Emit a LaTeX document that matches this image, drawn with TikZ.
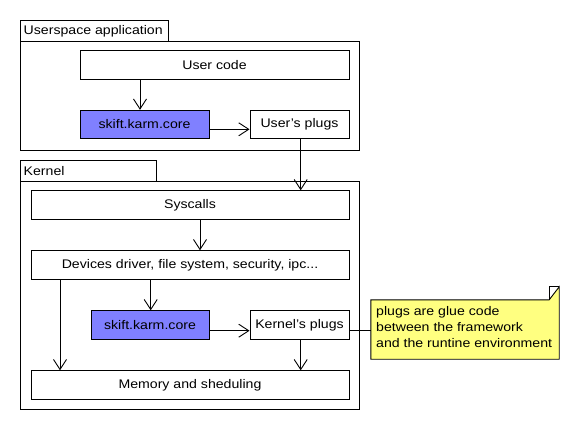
\documentclass[tikz,border=0pt]{standalone}
\usepackage{fontspec}
\setmainfont{Liberation Sans}[FakeStretch=1.13]
\usetikzlibrary{arrows.meta,calc}
\definecolor{coreblue}{HTML}{8080FF}
\definecolor{noteyellow}{HTML}{FFFF80}
\begin{document}
\begin{tikzpicture}[x=1pt,y=-1pt,
  every node/.style={font=\fontsize{12.5}{15.7}\selectfont, inner sep=0pt},
  box/.style={draw, line width=0.9pt, minimum height=28.5pt, fill=white},
  corebox/.style={box, fill=coreblue},
  pkg/.style={draw, line width=0.9pt},
  arr/.style={line width=0.9pt, -{Straight Barb[length=10pt,width=13pt,line width=0.9pt]}},
  conn/.style={line width=0.9pt}]
\useasboundingbox (0,0) rectangle (580,430);
% packages
\draw[pkg] (20,20) rectangle (168,41);
\node[anchor=west] (utab) at (23.5,31) {Userspace application};
\draw[pkg] (20,41) rectangle (359,150);
\draw[pkg] (20,160) rectangle (156,181);
\node[anchor=west] (ktab) at (23.5,171) {Kernel};
\draw[pkg] (20,181) rectangle (359,409);
% nodes
\node[box, minimum width=269pt] (ucode) at (214.5,65) {User code};
\node[corebox, minimum width=129pt] (ucore) at (144.5,124.5) {skift.karm.core};
\node[box, minimum width=99pt] (uplugs) at (299.5,124.5) {User's plugs};
\node[box, minimum width=318pt] (sys) at (190,205) {Syscalls};
\node[box, minimum width=318pt] (dev) at (190,265) {Devices driver, file system, security, ipc...};
\node[corebox, minimum width=118pt] (kcore) at (150,325) {skift.karm.core};
\node[box, minimum width=99pt] (kplugs) at (299.5,325) {Kernel's plugs};
\node[box, minimum width=318pt] (mem) at (190,385) {Memory and sheduling};
% note
\node[minimum width=188pt, minimum height=59pt] (note) at (465,329.5) {};
\fill[noteyellow] (note.north west) -- ([xshift=-10pt]note.north east) -- ([yshift=13pt]note.north east) -- (note.south east) -- (note.south west) -- cycle;
\draw[line width=0.9pt] (note.north west) -- ([xshift=-10pt]note.north east) -- ([yshift=13pt]note.north east) -- (note.south east) -- (note.south west) -- cycle;
\draw[line width=0.9pt] ([xshift=-10pt]note.north east) -- ([xshift=-10pt,yshift=13pt]note.north east) -- ([yshift=13pt]note.north east);
\node[anchor=north west, align=left] (notetext) at (376,306.5) {plugs are glue code\\between the framework\\and the runtine environment};
% helper coordinates
\coordinate (x140) at (140,0);
\coordinate (y129) at (0,129.3);
\coordinate (x300) at (300.7,0);
\coordinate (x200) at (200,0);
\coordinate (x150) at (150.7,0);
\coordinate (x60) at (60,0);
\coordinate (y330) at (0,330.7);
% connectors
\draw[arr] (ucode.south -| x140) -- (ucore.north -| x140);
\draw[arr] (ucore.east |- y129) -- (uplugs.west |- y129);
\draw[arr] (uplugs.south -| x300) -- (sys.north -| x300);
\draw[arr] (sys.south -| x200) -- (dev.north -| x200);
\draw[arr] (dev.south -| x150) -- (kcore.north -| x150);
\draw[arr] (dev.south -| x60) -- (mem.north -| x60);
\draw[arr] (kcore.east |- y330) -- (kplugs.west |- y330);
\draw[arr] (kplugs.south -| x300) -- (mem.north -| x300);
\draw[conn] (kplugs.east |- y330) -- (note.west |- y330);
\end{tikzpicture}
\end{document}
